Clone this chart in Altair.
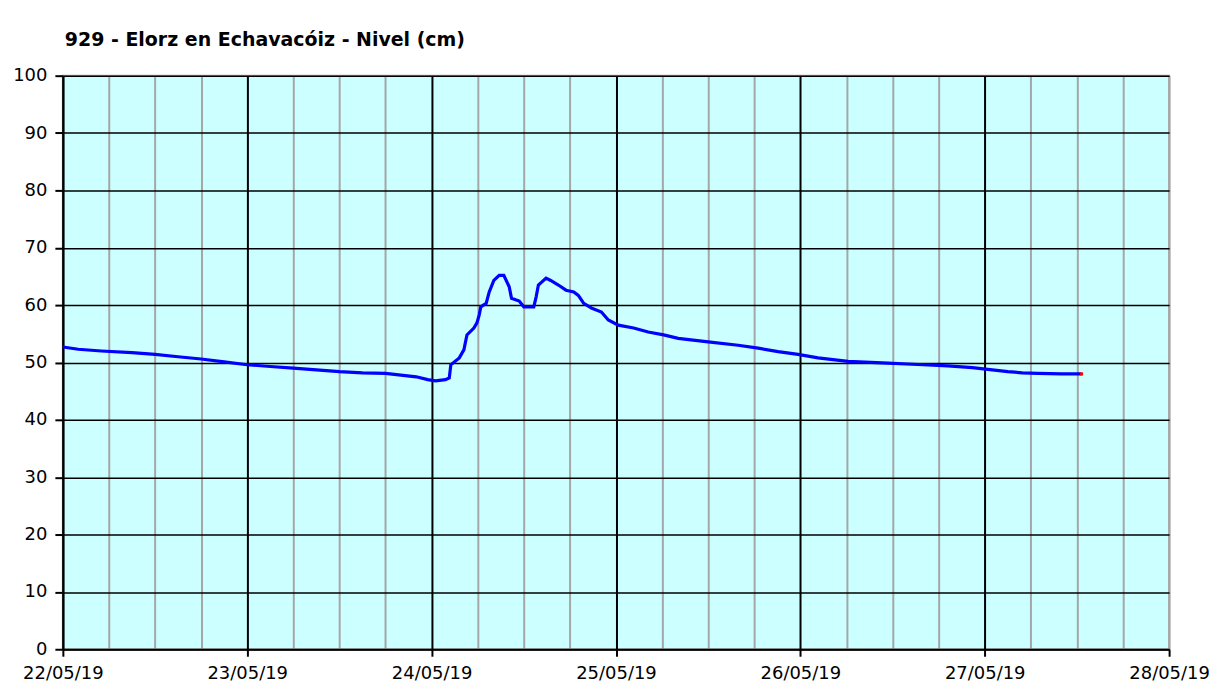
import altair as alt
import pandas as pd

title_text = "929 - Elorz en Echavacóiz - Nivel (cm)"

# hours after 22/05/19 00:00
hours = [0, 2, 5, 9, 12, 15, 18, 21, 24, 27, 30, 33, 36, 39, 42, 44, 46, 47.5, 48.5,
         49.8, 50.3, 50.5, 51.6, 52.2, 52.6, 53.5, 53.9, 54.2, 54.4, 55.1, 55.5, 56.1,
         56.8, 57.4, 58.1, 58.4, 59.4, 60.0, 61.3, 61.6, 61.9, 62.9, 63.5, 64.5, 65.5,
         66.5, 67.1, 67.8, 68.8, 70.1, 71.0, 72.3, 74.3, 76.2, 78.2, 80.1, 84.0, 87.9,
         90.5, 93.1, 95.7, 98.3, 102.2, 107.4, 112.0, 115.2, 118.4, 120.4, 123.0,
         124.9, 126.9, 130.0, 132.6]
levels = [52.7, 52.3, 52.0, 51.7, 51.4, 51.0, 50.6, 50.1, 49.6, 49.3, 49.0, 48.7, 48.4,
          48.2, 48.1, 47.8, 47.5, 47.0, 46.8, 47.0, 47.3, 49.6, 50.8, 52.2, 54.8, 56.0,
          56.9, 58.3, 59.7, 60.3, 62.3, 64.3, 65.2, 65.2, 63.2, 61.2, 60.7, 59.7, 59.7,
          61.4, 63.5, 64.7, 64.3, 63.5, 62.6, 62.3, 61.7, 60.3, 59.5, 58.8, 57.4, 56.5,
          56.0, 55.3, 54.8, 54.2, 53.6, 53.0, 52.5, 51.9, 51.4, 50.8, 50.2, 49.9, 49.6,
          49.4, 49.1, 48.8, 48.4, 48.2, 48.1, 48.0, 48.0]

start = pd.Timestamp("2019-05-22 00:00:00")
times = [(start + pd.Timedelta(hours=h)).strftime("%Y-%m-%dT%H:%M:%S") for h in hours]
df = pd.DataFrame({"time": times, "level": levels})
last = df.tail(1)

tick_values = [alt.DateTime(year=2019, month=5, date=22 + i // 4, hours=(i % 4) * 6)
               for i in range(6 * 4 + 1)]

x_scale = alt.Scale(domain=[alt.DateTime(year=2019, month=5, date=22, hours=0),
                            alt.DateTime(year=2019, month=5, date=28, hours=0)])
y_scale = alt.Scale(domain=[0, 100], nice=False)

FONT = "DejaVu Sans"

x_axis = alt.Axis(
    values=tick_values,
    labelExpr="hours(datum.value) == 0 ? timeFormat(datum.value, '%d/%m/%y') : ''",
    labelOverlap=False, labelFlush=False,
    gridColor={"condition": {"test": "hours(datum.value) == 0 && date(datum.value) != 28",
                             "value": "#000000"}, "value": "#a6a6a6"},
    gridWidth=2, gridOpacity=1,
    tickColor={"condition": {"test": "hours(datum.value) == 0", "value": "#000000"},
               "value": "transparent"},
    tickSize=7, tickWidth=2,
    domainColor="#000000", domainWidth=2,
    labelFont=FONT, labelFontSize=18, labelColor="#000000", labelPadding=8,
    title=None,
)
y_axis = alt.Axis(
    values=list(range(0, 101, 10)),
    gridColor="#000000", gridWidth=1.5, gridOpacity=1,
    tickColor="#000000", tickSize=8, tickWidth=2,
    domainColor="#000000", domainWidth=2,
    labelFont=FONT, labelFontSize=18, labelColor="#000000", labelPadding=8,
    title=None,
)

line = alt.Chart(df).mark_line(color="#0000ff", strokeWidth=3.2).encode(
    x=alt.X("time:T", scale=x_scale, axis=x_axis),
    y=alt.Y("level:Q", scale=y_scale, axis=y_axis),
)
dot = alt.Chart(last).mark_square(color="#ff0000", size=10, opacity=1).encode(
    x=alt.X("time:T", scale=x_scale),
    y=alt.Y("level:Q", scale=y_scale),
)

chart = (line + dot).properties(
    width=1109, height=575,
    title=alt.TitleParams(title_text, anchor="start", frame="group", fontSize=19,
                          fontWeight="bold", font=FONT, color="#000000", offset=17, dx=2),
    autosize=alt.AutoSizeParams(type="none"),
    padding={"left": 55, "top": 67, "right": 40, "bottom": 40},
).configure_view(fill="#ccffff", stroke="#a6a6a6", strokeWidth=2)

chart.save("out.html", embed_options={"renderer": "svg", "actions": False})
